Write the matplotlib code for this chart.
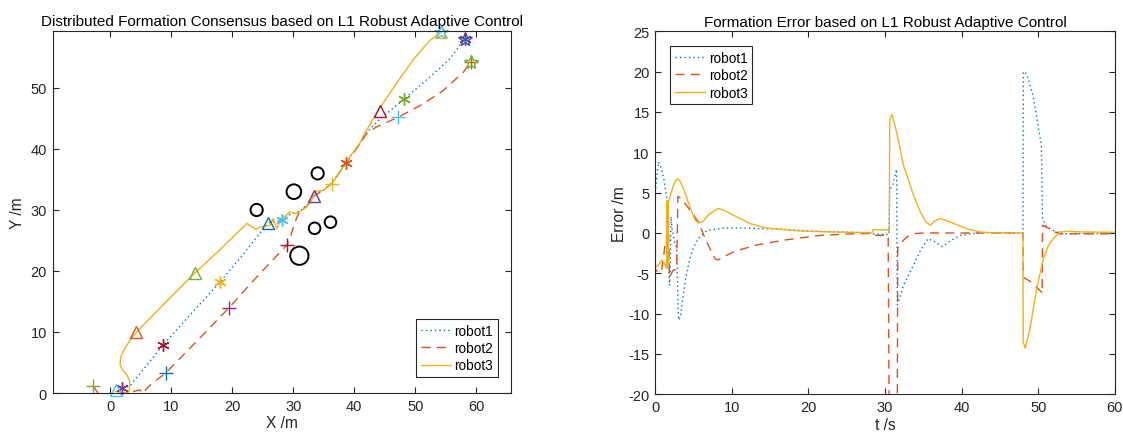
import matplotlib
matplotlib.use("Agg")
import matplotlib.pyplot as plt
from matplotlib.patches import Circle

plt.rcParams['font.family'] = ['Liberation Sans', 'DejaVu Sans']
plt.rcParams['axes.unicode_minus'] = False

# MATLAB default colour order
C = [(0, 0.447, 0.741), (0.85, 0.325, 0.098), (0.929, 0.694, 0.125),
     (0.494, 0.184, 0.556), (0.466, 0.674, 0.188), (0.301, 0.745, 0.933),
     (0.635, 0.078, 0.184)]
AX = (0.15, 0.15, 0.15)

# ---------------- left: trajectories ----------------
x1 = [2.0, 3.2, 8.6, 13.0, 18.0, 22.0, 25.9, 28.1, 29.5, 31.1, 32.5, 33.6, 35.0, 36.4,
      37.6, 38.7, 39.6, 40.7, 42.0, 44.2, 48.2, 52.4, 55.7, 58.1]
y1 = [0.9, 1.1, 7.8, 12.7, 18.2, 23.0, 27.9, 28.3, 29.3, 29.8, 31.0, 32.8, 33.3, 34.5,
      36.2, 37.8, 39.2, 40.5, 42.7, 44.9, 48.2, 51.8, 54.8, 58.1]

x2 = [-2.8, -2.3, -1.8, 2.3, 2.7, 3.6, 4.9, 5.3, 5.9, 6.5, 9.1, 14.0, 19.4, 24.0, 29.0,
      29.6, 30.1, 30.6, 31.1, 32.2, 33.4, 34.9, 36.4, 37.6, 38.7, 40.7, 42.0, 43.6,
      47.2, 51.3, 54.6, 57.9, 59.1]
y2 = [1.2, 0.4, -0.3, -0.3, 0.1, 0.2, 0.5, -0.1, 0.6, 1.25, 3.3, 8.3, 13.9, 19.0, 24.3,
      25.8, 27.5, 28.8, 29.9, 30.6, 32.3, 33.2, 34.4, 36.2, 37.8, 40.5, 42.5, 43.6,
      45.2, 47.4, 49.6, 52.6, 54.3]

x3 = [0.9, 2.0, 2.95, 3.2, 3.15, 2.7, 1.9, 1.6, 1.7, 2.1, 2.7, 3.5, 4.3, 9.0, 13.9,
      18.0, 22.4, 23.9, 24.5, 26.2, 26.7, 27.3, 27.8, 29.5, 30.3, 31.1, 32.2, 33.0,
      33.4, 33.8, 34.9, 36.4, 37.6, 38.7, 41.0, 41.5, 44.1, 47.1, 49.8, 52.4, 54.3]
y3 = [0.25, 0.05, 0.1, 1.0, 2.1, 3.0, 3.9, 4.8, 5.8, 6.8, 7.8, 9.0, 10.0, 14.8, 19.7,
      23.5, 27.8, 26.8, 27.2, 27.5, 28.6, 26.9, 28.3, 29.7, 29.4, 29.7, 30.5, 31.6,
      32.3, 33.1, 33.2, 34.4, 36.2, 37.9, 41.1, 42.2, 46.6, 51.0, 54.8, 57.8, 59.2]

# snapshot markers (robot1 '*', robot2 '+', robot3 '^')
m1x = [2.0, 8.6, 18.0, 28.1, 38.7, 48.2, 58.1]
m1y = [0.9, 7.8, 18.2, 28.3, 37.7, 48.2, 58.1]
m2x = [-2.8, 9.1, 19.4, 29.0, 36.4, 47.2, 59.1]
m2y = [1.2, 3.3, 13.9, 24.3, 34.3, 45.2, 54.3]
m3x = [0.9, 4.3, 13.9, 25.9, 33.4, 44.2, 54.3]
m3y = [0.5, 10.0, 19.7, 27.9, 32.3, 46.3, 59.1]

obs_x = [24.0, 30.1, 34.0, 33.5, 36.1, 31.0]
obs_y = [30.0, 33.0, 36.0, 27.0, 28.0, 22.5]
obs_r = [1.0, 1.2, 1.0, 0.95, 0.95, 1.5]

# ---------------- right: errors ----------------
t1 = [0, 0.4, 0.8, 1.1, 1.5, 1.6, 1.85, 1.95, 2.05, 2.2, 2.5, 2.8, 2.95, 3.05, 3.3, 3.65,
      4.0, 4.5, 5.0, 5.6, 6.7, 8.9, 11.1, 15.4, 21.5, 25.0, 28.3, 28.5, 30.5, 30.6, 31.0,
      31.5, 31.6, 32.4, 33.7, 34.6, 35.6, 36.5, 37.5, 38.5, 39.8, 42.4, 48.0, 48.05,
      48.5, 49.3, 50.4, 50.55, 51.1, 52.0, 52.8, 53.5, 60]
e1 = [5.0, 8.8, 8.0, 6.8, 4.3, 2.0, -6.5, -5.0, 2.0, 0.5, -1.0, -2.0, -8.0, -10.8, -10.3,
      -7.7, -5.5, -3.2, -1.8, -0.7, 0.3, 0.6, 0.62, 0.5, 0.2, 0.1, 0.0, -0.15, -0.2, 5.3,
      6.0, 7.9, -8.9, -6.5, -4.0, -2.2, -0.7, -1.1, -1.7, -1.0, -0.3, 0.05, 0.0, 20.0,
      19.7, 17.1, 10.9, 1.8, 0.75, 0.3, 0.0, -0.1, -0.05]

t2 = [0, 0.02, 0.4, 0.8, 1.0, 1.27, 1.45, 1.5, 1.7, 1.85, 2.0, 2.35, 2.8, 2.95, 3.2,
      4.1, 5.6, 6.7, 7.8, 8.2, 9.0, 10.6, 13.2, 16.7, 21.5, 25.8, 28.3, 28.5, 30.4,
      30.55, 31.55, 31.6, 31.65, 32.0, 32.4, 33.0, 33.7, 35.0, 48.0, 48.05, 49.1,
      50.4, 50.5, 50.55, 51.5, 52.2, 52.8, 60]
e2 = [3.8, -4.5, -4.9, -4.8, -3.5, -1.5, -1.8, 3.0, 2.8, -5.5, -5.2, -4.6, -4.5, 4.5,
      4.4, 3.4, 1.4, -1.1, -3.2, -3.35, -2.9, -2.2, -1.5, -0.9, -0.3, -0.1, -0.05, -0.3,
      -0.3, -26.0, -26.0, -18.9, -1.9, -1.3, -0.9, -0.4, -0.1, 0.0, 0.0, -5.5, -6.1,
      -7.3, -7.5, 0.95, 0.5, 0.1, -0.1, -0.1]

t3 = [0, 0.4, 0.83, 1.1, 1.3, 1.48, 1.5, 1.55, 1.6, 1.65, 1.7, 2.0, 2.4, 2.8, 3.2, 3.8,
      4.5, 5.2, 5.6, 6.2, 7.0, 8.2, 9.0, 10.2, 12.4, 14.5, 18.9, 23.2, 27.6, 28.3, 28.45,
      30.4, 30.55, 30.6, 30.9, 31.5, 32.4, 33.7, 34.6, 35.3, 35.9, 36.5, 37.2, 38.5,
      40.6, 42.4, 44.0, 48.0, 48.02, 48.3, 48.9, 49.8, 50.65, 51.3, 51.96, 52.8, 53.7,
      56.0, 60]
e3 = [-4.2, -4.0, -3.4, -3.6, -4.0, -4.4, 4.05, -4.3, 4.0, -4.0, 3.7, 4.8, 6.0, 6.7,
      6.5, 5.2, 3.3, 1.6, 1.24, 1.4, 2.3, 3.05, 2.8, 2.2, 1.16, 0.62, 0.25, 0.12, 0.04,
      0.05, 0.41, 0.37, 0.3, 14.0, 14.7, 12.5, 8.4, 4.7, 2.6, 1.4, 0.95, 1.5, 1.8, 1.36,
      0.54, 0.12, 0.0, 0.0, -13.5, -14.3, -11.9, -6.9, -3.2, -1.6, -0.7, 0.12, 0.2,
      0.12, 0.08]

labels = ['robot1', 'robot2', 'robot3']

fig = plt.figure(figsize=(11.23, 4.39), dpi=100)

def style(ax):
    for s in ax.spines.values():
        s.set_color(AX)
        s.set_linewidth(0.8)
    ax.tick_params(direction='in', top=True, right=True, colors=AX,
                   labelsize=10.5, length=4, width=0.8, labelcolor=AX, pad=4)

TITLE_FS = 11.0
LABEL_FS = 11.2
LEG_FS = 9.8

# left axes
axL = fig.add_axes([0.0469, 0.1025, 0.4081, 0.8246])
dot = (0, (1, 2.2))
dash = (0, (6.5, 4.5))
axL.plot(x1, y1, color=C[0], ls=dot, lw=1.0, label=labels[0])
axL.plot(x2, y2, color=C[1], ls=dash, lw=1.0, label=labels[1])
axL.plot(x3, y3, color=C[2], ls='-', lw=1.0, label=labels[2])
for g in range(len(m1x)):
    axL.plot(m1x[g], m1y[g], marker=(6, 2, 0), ms=9, mew=1.0,
             color=C[(3 + 3 * g) % 7], ls='none', clip_on=False)
    axL.plot(m2x[g], m2y[g], marker='+', ms=10, mew=1.0,
             color=C[(4 + 3 * g) % 7], ls='none', clip_on=False)
    axL.plot(m3x[g], m3y[g], marker='^', ms=9, mew=1.0, mfc='none',
             color=C[(5 + 3 * g) % 7], ls='none', clip_on=False)
# end pentagrams
ends = [(x1[-1], y1[-1]), (x2[-1], y2[-1]), (x3[-1], y3[-1])]
for r, (ex, ey) in enumerate(ends):
    axL.plot(ex, ey, marker='*', ms=10, mew=1.0, mfc='none',
             color=C[(3 + r) % 7], ls='none', clip_on=False)
for ox, oy, orr in zip(obs_x, obs_y, obs_r):
    axL.add_patch(Circle((ox, oy), orr, fill=False, ec='black', lw=1.4))
axL.set_xlim(-9.44, 65.69)
axL.set_ylim(0, 59.34)
axL.set_xticks([0, 10, 20, 30, 40, 50, 60])
axL.set_yticks([0, 10, 20, 30, 40, 50])
style(axL)
axL.set_xlabel('X /m', fontsize=LABEL_FS, color=AX, labelpad=2)
axL.set_ylabel('Y /m', fontsize=LABEL_FS, color=AX, labelpad=4)
axL.set_title('Distributed Formation Consensus based on L1 Robust Adaptive Control',
              fontsize=TITLE_FS, color='black', pad=4)
legL = axL.legend(loc='lower right', bbox_to_anchor=(0.972, 0.044), fontsize=LEG_FS,
                  frameon=True, fancybox=False, framealpha=1, edgecolor=AX,
                  handlelength=2.2, handletextpad=0.3, borderpad=0.35,
                  labelspacing=0.25, borderaxespad=0)
legL.get_frame().set_linewidth(0.8)

# right axes
axR = fig.add_axes([0.5835, 0.0995, 0.4093, 0.827])
axR.plot(t1, e1, color=C[0], ls=dot, lw=1.0, label=labels[0])
axR.plot(t2, e2, color=C[1], ls=dash, lw=1.0, label=labels[1])
axR.plot(t3, e3, color=C[2], ls='-', lw=1.0, label=labels[2])
axR.set_xlim(0, 60)
axR.set_ylim(-20, 25)
axR.set_xticks([0, 10, 20, 30, 40, 50, 60])
axR.set_yticks([-20, -15, -10, -5, 0, 5, 10, 15, 20, 25])
style(axR)
axR.set_xlabel('t /s', fontsize=LABEL_FS, color=AX, labelpad=2)
axR.set_ylabel('Error /m', fontsize=LABEL_FS, color=AX, labelpad=1)
axR.set_title('Formation Error based on L1 Robust Adaptive Control',
              fontsize=TITLE_FS, color='black', pad=4)
legR = axR.legend(loc='upper left', bbox_to_anchor=(0.032, 0.9595), fontsize=LEG_FS,
                  frameon=True, fancybox=False, framealpha=1, edgecolor=AX,
                  handlelength=2.2, handletextpad=0.3, borderpad=0.35,
                  labelspacing=0.25, borderaxespad=0)
legR.get_frame().set_linewidth(0.8)

fig.savefig('out.png', dpi=100)
